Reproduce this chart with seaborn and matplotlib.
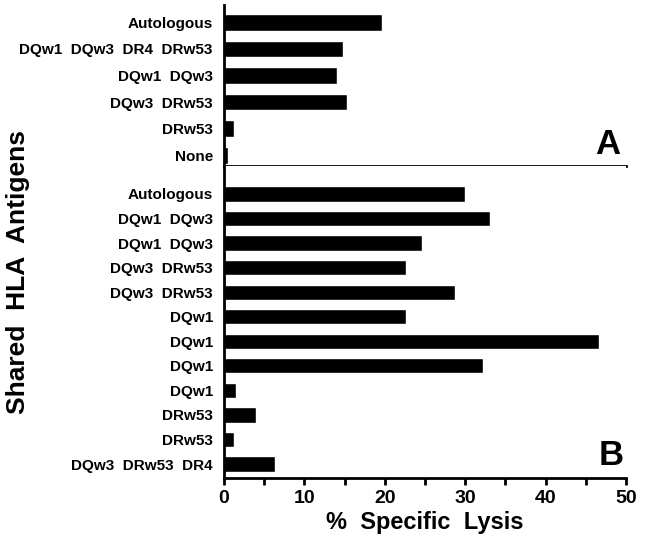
import pandas as pd
import matplotlib.pyplot as plt
import seaborn as sns
from matplotlib.ticker import MultipleLocator

# panel A
labels_a = ["Autologous", "DQw1  DQw3  DR4  DRw53", "DQw1  DQw3",
            "DQw3  DRw53", "DRw53", "None"]
lysis_a = [19.6, 14.8, 14.0, 15.3, 1.3, 0.5]

# panel B
labels_b = ["Autologous", "DQw1  DQw3", "DQw1  DQw3", "DQw3  DRw53",
            "DQw3  DRw53", "DQw1", "DQw1", "DQw1", "DQw1", "DRw53",
            "DRw53", "DQw3  DRw53  DR4"]
lysis_b = [30.0, 33.1, 24.6, 22.7, 28.7, 22.7, 46.6, 32.2, 1.5, 4.0, 1.3, 6.4]

sns.set_style("white")
plt.rcParams['font.family'] = ['Liberation Sans Narrow', 'Liberation Sans', 'DejaVu Sans']
plt.rcParams['font.weight'] = 'bold'
plt.rcParams['text.color'] = 'black'
plt.rcParams['xtick.color'] = 'black'
plt.rcParams['ytick.color'] = 'black'

df_a = pd.DataFrame({"row": range(len(labels_a)), "lysis": lysis_a})
df_b = pd.DataFrame({"row": range(len(labels_b)), "lysis": lysis_b})

fig = plt.figure(figsize=(6.46, 5.44), dpi=100)
ax_a = fig.add_axes([0.3467, 0.6949, 0.6223, 0.2959])
ax_b = fig.add_axes([0.3467, 0.1213, 0.6223, 0.5736])

sns.barplot(data=df_a, x="lysis", y="row", orient="h", color="black",
            width=0.62, ax=ax_a)
sns.barplot(data=df_b, x="lysis", y="row", orient="h", color="black",
            width=0.62, ax=ax_b)

for ax, labels in [(ax_a, labels_a), (ax_b, labels_b)]:
    ax.set_xlim(0, 50)
    ax.set_yticks(range(len(labels)))
    ax.set_yticklabels(labels, fontsize=11, fontweight="bold", color="black")
    ax.tick_params(axis="y", length=0, pad=8)
    ax.set_xlabel("")
    ax.set_ylabel("")
    for s in ["top", "right"]:
        ax.spines[s].set_visible(False)
    for s in ["left", "bottom"]:
        ax.spines[s].set_linewidth(2)
        ax.spines[s].set_color("black")

ax_a.set_ylim(5.4, -0.65)
ax_b.set_ylim(11.57, -1.14)

ax_a.set_xticks([])
ax_b.xaxis.set_major_locator(MultipleLocator(10))
ax_b.xaxis.set_minor_locator(MultipleLocator(5))
ax_b.tick_params(axis="x", which="both", direction="out", length=5, width=2,
                 bottom=True, labelsize=14, color="black")
for t in ax_b.get_xticklabels():
    t.set_fontweight("bold")

ax_a.text(0.985, 0.03, "A", transform=ax_a.transAxes, ha="right", va="bottom",
          fontsize=25, fontweight="bold")
ax_b.text(0.995, 0.02, "B", transform=ax_b.transAxes, ha="right", va="bottom",
          fontsize=25, fontweight="bold")

fig.text(0.658, 0.04, "%  Specific  Lysis", ha="center", va="center",
         fontsize=17, fontweight="bold")
fig.text(0.028, 0.5, "Shared  HLA  Antigens", ha="center", va="center",
         rotation=90, fontsize=19, fontweight="bold")

plt.savefig("out.png", dpi=100)
